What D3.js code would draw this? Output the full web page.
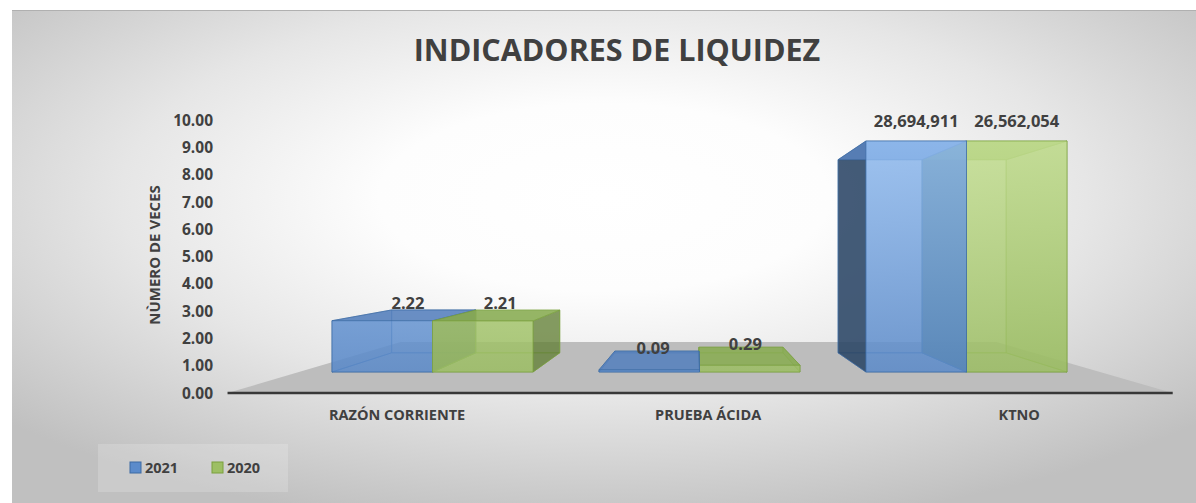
<!DOCTYPE html>
<html><head><meta charset="utf-8">
<script src="https://cdn.jsdelivr.net/npm/d3@7"></script>
<style>
body{margin:0;background:#fff;}
svg{display:block;font-family:"Open Sans",sans-serif;}
</style>
</head><body>
<svg id="c" width="1196" height="503"></svg>
<script>
// ---- data ----
const categories = ["RAZÓN CORRIENTE", "PRUEBA ÁCIDA", "KTNO"];
const seriesNames = ["2021", "2020"];
const values2021 = [2.22, 0.09, 28694911];
const values2020 = [2.21, 0.29, 26562054];
const yTicks = [0, 1, 2, 3, 4, 5, 6, 7, 8, 9, 10];
const yDomain = [0, 10];
const titleText = "INDICADORES DE LIQUIDEZ";
const yTitle = "NÙMERO DE VECES";

// ---- layout ----
const W = 1196, H = 503;
const svg = d3.select("#c");
const vp = {x: 696, y: 255};
const fFront = 1, fBack = 0.836, fFloorFront = 1.18, fFloorBack = 0.744, fMid = 0.918;
const proj = (X, Y, f) => [vp.x + (X - vp.x) * f, vp.y + (Y - vp.y) * f];
const txt = "#404040";

const defs = svg.append("defs");
const bg = defs.append("radialGradient").attr("id", "bg").attr("cx", "0.5").attr("cy", "0.38").attr("r", "0.68");
bg.append("stop").attr("offset", "0").attr("stop-color", "#ffffff");
bg.append("stop").attr("offset", "0.28").attr("stop-color", "#fdfdfd");
bg.append("stop").attr("offset", "0.6").attr("stop-color", "#e6e6e6");
bg.append("stop").attr("offset", "1").attr("stop-color", "#c0c0c0");

// scales (world coordinates at the bars' front plane)
const x0 = d3.scaleBand().domain(categories).range([299, 1100]).paddingInner(0.247).paddingOuter(0.1235);
const x1 = d3.scaleBand().domain(seriesNames).range([0, x0.bandwidth()]);
const yWorld = d3.scaleLinear().domain(yDomain).range([372, 141]).clamp(true);

const styles = {
  "2021": {g: ["#93bef2", "#5b8bcb"], side: "#2c4564", top: "#5883be", inner: "#3f6ba6", edge: "#3c6aa3"},
  "2020": {g: ["#c6e194", "#9dbf64"], side: "#5f7c33", top: "#8aad53", inner: "#7d9f45", edge: "#7aa03d"}
};
seriesNames.forEach(s => {
  const lg = defs.append("linearGradient").attr("id", "fg" + s).attr("gradientUnits", "userSpaceOnUse")
    .attr("x1", 0).attr("y1", yWorld(10)).attr("x2", 0).attr("y2", yWorld(0));
  lg.append("stop").attr("offset", 0).attr("stop-color", styles[s].g[0]);
  lg.append("stop").attr("offset", 1).attr("stop-color", styles[s].g[1]);
});

svg.append("rect").attr("x", 12).attr("y", 10).attr("width", W - 12).attr("height", H - 10).attr("fill", "url(#bg)");
svg.append("line").attr("x1", 12).attr("x2", W).attr("y1", 10.5).attr("y2", 10.5).attr("stroke", "#b0b0b0");

// floor
const yb = yWorld(0);
const floorPts = [proj(299, yb, fFloorFront), proj(1100, yb, fFloorFront), proj(1100, yb, fFloorBack), proj(299, yb, fFloorBack)];
svg.append("polygon").attr("points", floorPts.map(p => p.join(",")).join(" ")).attr("fill", "#bdbdbd");
svg.append("line").attr("x1", floorPts[0][0]).attr("x2", floorPts[1][0]).attr("y1", floorPts[0][1]).attr("y2", floorPts[1][1])
  .attr("stroke", "#383838").attr("stroke-width", 2.5);

// axes
const yAxisScale = d3.scaleLinear().domain(yDomain).range([proj(0, yWorld(0), fFloorFront)[1], proj(0, yWorld(10), fFloorFront)[1]]);
const yAxis = svg.append("g").attr("transform", "translate(213,0)")
  .call(d3.axisLeft(yAxisScale).tickValues(yTicks).tickFormat(d3.format(".2f")).tickSize(0).tickPadding(0));
yAxis.select(".domain").remove();
yAxis.selectAll("text").attr("fill", txt).style("font-size", "15.5px").style("font-weight", "bold").style("font-family", "'Open Sans',sans-serif");

const xFront = d3.scaleBand().domain(categories)
  .range([proj(299, 0, fFloorFront)[0] + 14, proj(1100, 0, fFloorFront)[0] + 2]);
const xAxis = svg.append("g").attr("transform", "translate(0,410)")
  .call(d3.axisBottom(xFront).tickSize(0).tickPadding(0));
xAxis.select(".domain").remove();
xAxis.selectAll("text").attr("fill", txt).style("font-size", "14.5px").style("font-weight", "bold").style("font-family", "'Open Sans',sans-serif");

svg.append("text").attr("transform", "translate(155,255) rotate(-90)").attr("text-anchor", "middle").attr("dy", "0.35em")
  .attr("fill", txt).style("font-size", "15px").style("font-weight", "bold").text(yTitle);

svg.append("text").attr("x", 617).attr("y", 61).attr("text-anchor", "middle").attr("fill", txt)
  .style("font-size", "30.5px").style("font-weight", "bold").text(titleText);

// bars
const bars = [];
categories.forEach((c, i) => {
  [values2021[i], values2020[i]].forEach((v, j) => {
    const s = seriesNames[j];
    const xa = x0(c) + x1(s), xb = xa + x1.bandwidth();
    bars.push({c, s, v, xa, xb});
  });
});
bars.sort((a, b) => Math.abs((b.xa + b.xb) / 2 - vp.x) - Math.abs((a.xa + a.xb) / 2 - vp.x));

const pts = arr => arr.map(p => p.join(",")).join(" ");
const fmt = v => v >= 100 ? d3.format(",")(v) : d3.format(".2f")(v);
const gBars = svg.append("g");
bars.forEach(b => {
  const st = styles[b.s];
  const yt = yWorld(b.v), y0 = yWorld(0);
  const F = (X, Y) => proj(X, Y, fFront), B = (X, Y) => proj(X, Y, fBack);
  const rightOfVp = (b.xa + b.xb) / 2 > vp.x;
  const left = [F(b.xa, yt), B(b.xa, yt), B(b.xa, y0), F(b.xa, y0)];
  const right = [F(b.xb, yt), B(b.xb, yt), B(b.xb, y0), F(b.xb, y0)];
  const g = gBars.append("g");
  const face = (p, fill, op) => g.append("polygon").attr("points", pts(p)).attr("fill", fill).attr("fill-opacity", op)
    .attr("stroke", st.edge).attr("stroke-opacity", 0.6).attr("stroke-width", 1).attr("stroke-linejoin", "round");
  face([B(b.xa, yt), B(b.xb, yt), B(b.xb, y0), B(b.xa, y0)], st.inner, 0.25);
  face([F(b.xa, y0), F(b.xb, y0), B(b.xb, y0), B(b.xa, y0)], st.inner, 0.25);
  if (rightOfVp) { face(right, st.inner, 0.45); face(left, st.side, 0.85); }
  else { face(left, st.inner, 0.35); face(right, st.side, 0.7); }
  face([F(b.xa, yt), F(b.xb, yt), B(b.xb, yt), B(b.xa, yt)], st.top, 0.85);
  face([F(b.xa, yt), F(b.xb, yt), F(b.xb, y0), F(b.xa, y0)], "url(#fg" + b.s + ")", 0.8);
  b.yt = yt;
});

// labels
bars.forEach(b => {
  const cx = (b.xa + b.xb) / 2;
  let lx, ly;
  if (b.v > yDomain[1]) { const p = proj(cx, b.yt, fFront); lx = p[0]; ly = p[1] - 20; }
  else { const p = proj(cx, b.yt, fMid); lx = p[0]; ly = p[1] - 12; }
  svg.append("text").attr("x", lx).attr("y", ly).attr("dy", "0.35em").attr("text-anchor", "middle")
    .attr("fill", txt).style("font-size", "16.5px").style("font-weight", "bold").text(fmt(b.v));
});

// legend
svg.append("rect").attr("x", 98).attr("y", 444).attr("width", 190).attr("height", 48).attr("fill", "#ffffff").attr("fill-opacity", 0.18);
const lx = d3.scaleOrdinal().domain(seriesNames).range([130, 212]);
seriesNames.forEach(s => {
  svg.append("rect").attr("x", lx(s)).attr("y", 462).attr("width", 11).attr("height", 11)
    .attr("fill", styles[s].g[1]).attr("stroke", styles[s].edge).attr("stroke-width", 1);
  svg.append("text").attr("x", lx(s) + 15).attr("y", 467.5).attr("dy", "0.35em").attr("fill", txt)
    .style("font-size", "14.5px").style("font-weight", "bold").text(s);
});
</script>
</body></html>
